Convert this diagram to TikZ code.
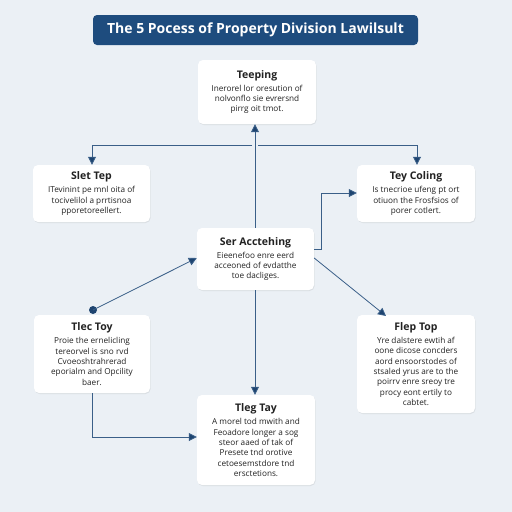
\documentclass[tikz,border=0pt]{standalone}
\usepackage{fontspec}
\setmainfont{Open Sans}
\usetikzlibrary{arrows.meta,shadows}
\definecolor{bgc}{HTML}{EBF0F5}
\definecolor{navy}{HTML}{1E4C7E}
\definecolor{linec}{HTML}{3A5F88}
\definecolor{tipc}{HTML}{1E4470}
\definecolor{txt}{HTML}{222222}
\tikzset{
  card/.style={draw=none, fill=white, rounded corners=5pt, align=center, inner sep=0pt,
    drop shadow={shadow xshift=0.6pt, shadow yshift=-1pt, opacity=0.12, fill=black!60},
    text=txt, font=\fontsize{8.2}{10.3}\selectfont},
  conn/.style={draw=linec, line width=0.8pt, -{Triangle[length=8pt,width=8pt,fill=tipc]}},
}
\newcommand{\hd}[1]{{\bfseries\fontsize{10.5}{12}\selectfont #1}\\[3pt]}
\begin{document}
\begin{tikzpicture}[x=1pt,y=-1pt]
\useasboundingbox[fill=bgc] (0,0) rectangle (512,512);
% title
\node[fill=navy, rounded corners=4pt, minimum width=325pt, minimum height=30pt, text=white,
  font=\bfseries\fontsize{14}{16}\selectfont] (title) at (255.5,30) {The 5 Pocess of Property Division Lawilsult};
% cards
\node[card, minimum width=118pt, minimum height=64pt] (top) at (257,92)
  {\hd{Teeping}Inerorel lor oresution of\\nolvonflo sie evrersnd\\pirrg oit tmot.};
\node[card, minimum width=117pt, minimum height=57pt] (left) at (91.5,193.5)
  {\hd{Slet Tep}ITevinint pe mnl oita of\\tocivelilol a prrtisnoa\\pporetoreellert.};
\node[card, minimum width=118pt, minimum height=57pt] (right) at (416,193.5)
  {\hd{Tey Coling}Is tnecrioe ufeng pt ort\\otiuon the Frosfsios of\\porer cotlert.};
\node[card, minimum width=117pt, minimum height=62pt] (mid) at (255.5,259)
  {\hd{Ser Acctehing}Eieenefoo enre eerd\\acceoned of evdatthe\\toe dacliges.};
\node[card, minimum width=116pt, minimum height=78pt] (ll) at (92,354)
  {\hd{Tlec Toy}Proie the ernelicling\\tereorvel is sno rvd\\Cvoeoshtrahrerad\\eporialm and Opcility\\baer.};
\node[card, minimum width=118pt, minimum height=98pt] (lr) at (416,364)
  {\hd{Flep Top}Yre dalstere ewtih af\\oone dicose concders\\aord ensoorstodes of\\stsaled yrus are to the\\poirrv enre sreoy tre\\procy eont ertily to\\cabtet.};
\node[card, minimum width=118pt, minimum height=90pt] (bot) at (256,440)
  {\hd{Tleg Tay}A morel tod mwith and\\Feoadore longer a sog\\steor aaed of tak of\\Presete tnd orotive\\cetoesemstdore tnd\\ersctetions.};
% helper coordinates
\coordinate (hL) at (92,145);
\coordinate (hR) at (417,145);
\coordinate (dot) at (93,310);
% connectors
\draw[conn] (mid.north -| 255,0) -- (top.south -| 255,0);
\draw[draw=linec, line width=0.8pt] (252,145) -- (hL);
\draw[draw=linec, line width=0.8pt] (258,145) -- (hR);
\draw[conn] (hL) -- (left.north -| hL);
\draw[conn] (hR) -- (right.north -| hR);
\draw[conn] (mid.east |- 0,249) -- (321,249) -- (321,193) -- (right.west |- 0,193);
\fill[tipc] (dot) circle (4pt);
\draw[conn] (dot) -- (mid.west |- 0,258);
\draw[conn] (mid.east |- 0,258) -- (386,316);
\draw[conn] (mid.south -| 255,0) -- (bot.north -| 255,0);
\draw[conn] (ll.south -| 92,0) -- (92,437) -- (bot.west |- 0,437);
\end{tikzpicture}
\end{document}
